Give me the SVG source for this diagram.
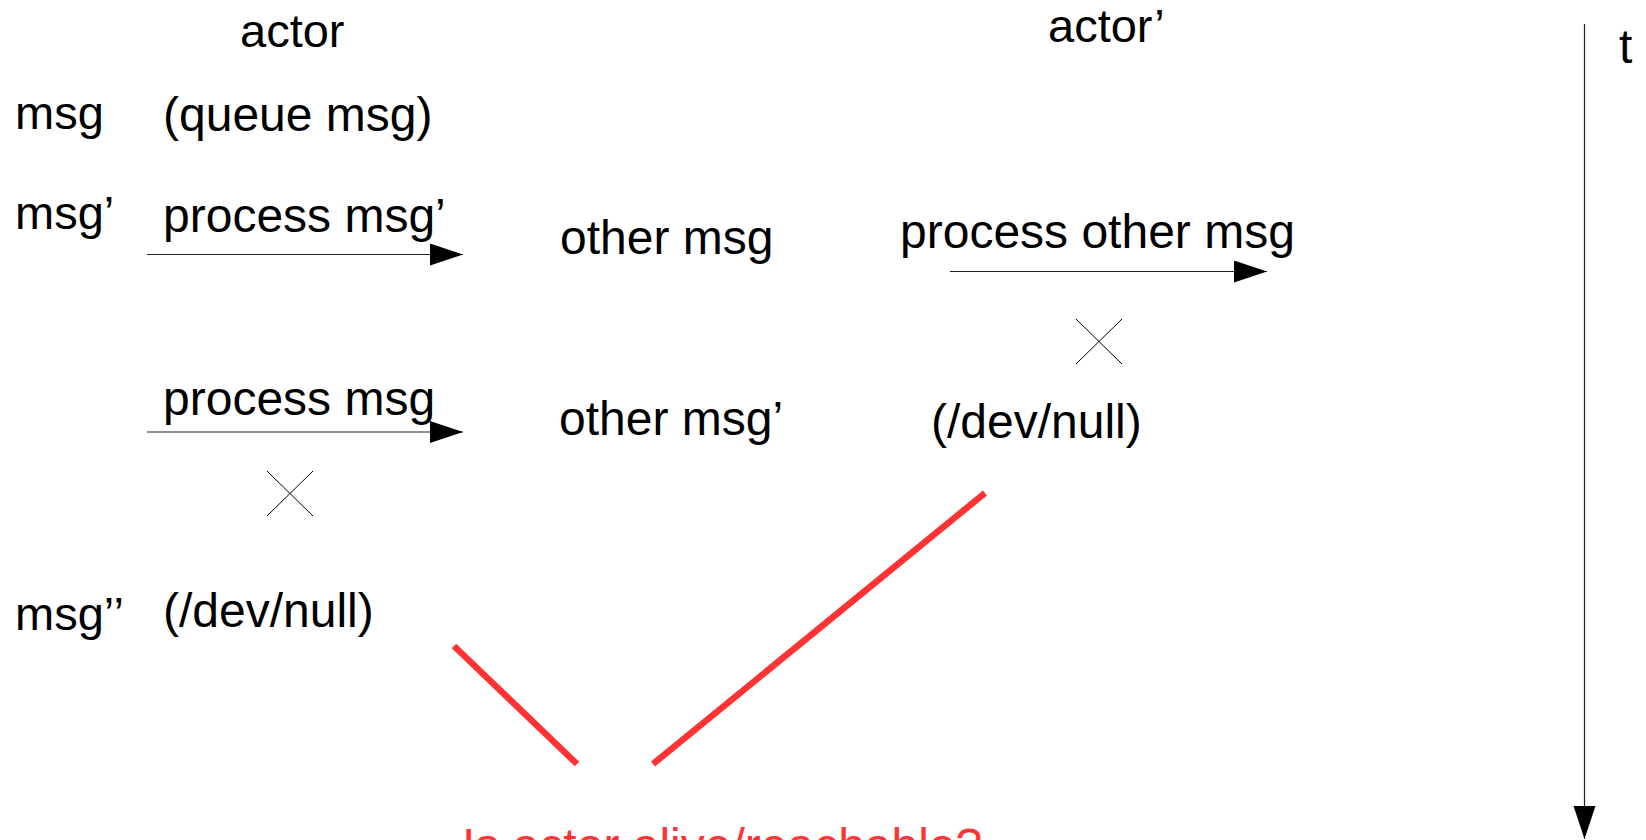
<svg xmlns="http://www.w3.org/2000/svg" width="1646" height="840" viewBox="0 0 1646 840">
<style>
text{font-family:"Liberation Sans",Arial,sans-serif;font-size:48px;fill:#000}
.h{font-size:47px}
.red{fill:#ff3333}
.arr{stroke:#222;stroke-width:1.2;fill:none}
.x{stroke:#000;stroke-width:1;fill:none}
.rl{stroke:#ff3333;stroke-width:6.5;fill:none}
</style>
<defs>
<marker id="ah" markerUnits="userSpaceOnUse" markerWidth="34" markerHeight="24" refX="33" refY="11" orient="auto">
<path d="M0,0 L33,11 L0,22 z" fill="#000"/>
</marker>
</defs>
<g id="labels">
<g id="actor"><text class="h" x="240" y="47">actor</text></g>
<g id="actor2"><text class="h" x="1048" y="42">actor’</text></g>
<g id="t"><text x="1619" y="63">t</text></g>
<g id="msg"><text class="h" x="15" y="129">msg</text></g>
<g id="queue"><text x="163" y="131">(queue msg)</text></g>
<g id="msg1"><text class="h" x="15" y="229">msg’</text></g>
<g id="procmsg1"><text x="163" y="232">process msg’</text></g>
<g id="othermsg"><text x="560" y="254">other msg</text></g>
<g id="procother"><text x="900" y="248">process other msg</text></g>
<g id="procmsg"><text x="163" y="415">process msg</text></g>
<g id="othermsg1"><text x="559" y="435">other msg’</text></g>
<g id="devnull2"><text x="931" y="438">(/dev/null)</text></g>
<g id="msg2"><text class="h" x="15" y="630">msg’’</text></g>
<g id="devnull1"><text x="163" y="627">(/dev/null)</text></g>
<g id="question"><text class="red" x="462" y="862">Is actor alive/reachable?</text></g>
</g>
<g id="crosses">
<path class="x" d="M267,471 L313,516 M313,471 L267,516"/>
<path class="x" d="M1076,319 L1122,364 M1122,319 L1076,364"/>
</g>
<g id="connectors">
<line class="arr" x1="147" y1="254.5" x2="463" y2="254.5" marker-end="url(#ah)"/>
<line class="arr" x1="147" y1="432" x2="463" y2="432" marker-end="url(#ah)"/>
<line class="arr" x1="950" y1="271.5" x2="1267" y2="271.5" marker-end="url(#ah)"/>
<line class="arr" x1="1584.5" y1="24" x2="1584.5" y2="839" marker-end="url(#ah)"/>
<line class="rl" x1="454" y1="646" x2="577" y2="764"/>
<line class="rl" x1="653" y1="764" x2="985" y2="493"/>
</g>
</svg>
